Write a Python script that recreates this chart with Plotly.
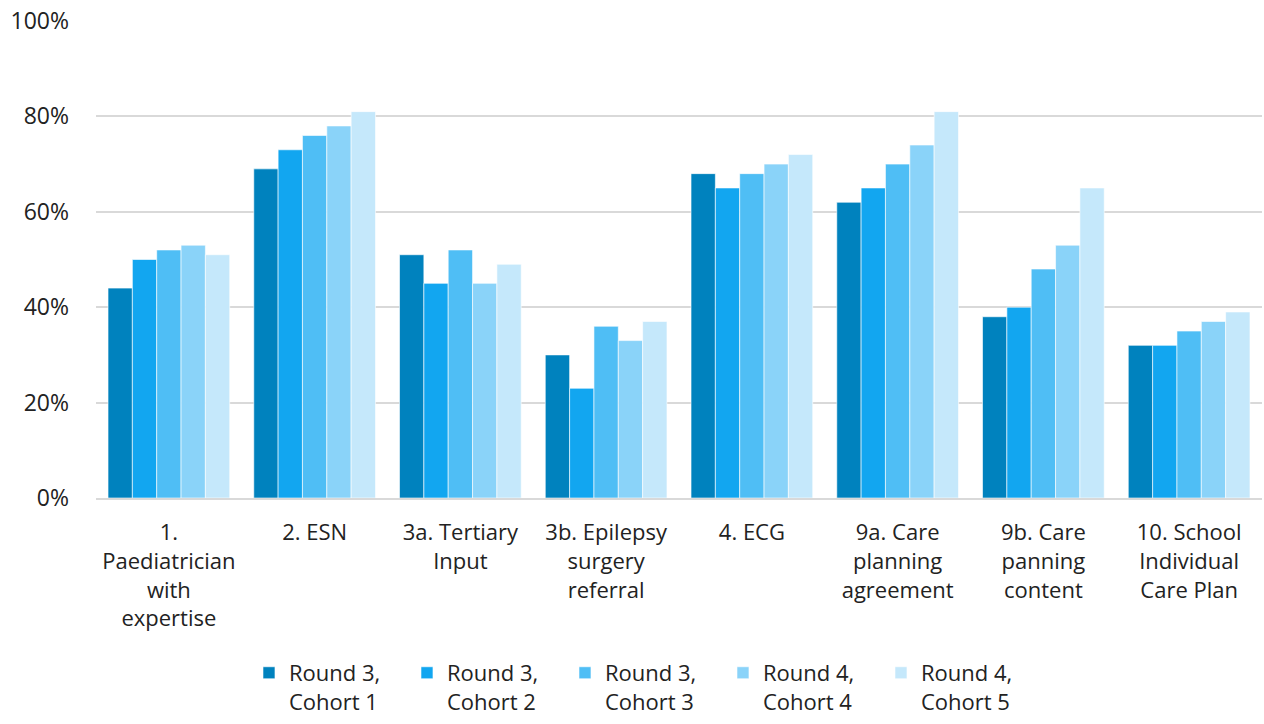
import plotly.graph_objects as go

categories = [
    "1.<br>Paediatrician<br>with<br>expertise",
    "2. ESN",
    "3a. Tertiary<br>Input",
    "3b. Epilepsy<br>surgery<br>referral",
    "4. ECG",
    "9a. Care<br>planning<br>agreement",
    "9b. Care<br>panning<br>content",
    "10. School<br>Individual<br>Care Plan",
]

series_names = [
    "Round 3,<br>Cohort 1",
    "Round 3,<br>Cohort 2",
    "Round 3,<br>Cohort 3",
    "Round 4,<br>Cohort 4",
    "Round 4,<br>Cohort 5",
]

r3_c1 = [0.44, 0.69, 0.51, 0.30, 0.68, 0.62, 0.38, 0.32]
r3_c2 = [0.50, 0.73, 0.45, 0.23, 0.65, 0.65, 0.40, 0.32]
r3_c3 = [0.52, 0.76, 0.52, 0.36, 0.68, 0.70, 0.48, 0.35]
r4_c4 = [0.53, 0.78, 0.45, 0.33, 0.70, 0.74, 0.53, 0.37]
r4_c5 = [0.51, 0.81, 0.49, 0.37, 0.72, 0.81, 0.65, 0.39]

colors = ["#0082BE", "#12A6F0", "#4FBEF5", "#8AD3F9", "#C5E8FB"]

FONT = "Open Sans"

fig = go.Figure()
for name, vals, col in zip(series_names, [r3_c1, r3_c2, r3_c3, r4_c4, r4_c5], colors):
    fig.add_trace(go.Bar(
        x=categories, y=vals, name=name,
        marker=dict(color=col, line=dict(color="rgba(255,255,255,0.6)", width=1)),
    ))

fig.update_layout(
    width=1264, height=724,
    margin=dict(l=96, r=2, t=21, b=225),
    paper_bgcolor="white", plot_bgcolor="white",
    barmode="group", bargap=0.165, bargroupgap=0,
    font=dict(family=FONT, size=22, color="#222222"),
    yaxis=dict(
        range=[0, 1], tickvals=[0, 0.2, 0.4, 0.6, 0.8, 1.0],
        tickformat=".0%", showgrid=True, gridcolor="#D9D9D9", gridwidth=2,
        zeroline=False, showline=False, ticks="", ticklabelstandoff=26,
        tickfont=dict(size=23, color="#222222"),
    ),
    xaxis=dict(
        showline=True, linecolor="#D9D9D9", linewidth=2, ticks="",
        tickfont=dict(size=22, color="#222222"), tickangle=0,
        ticklabelstandoff=14,
    ),
    legend=dict(
        orientation="h", x=0.1312, xanchor="left", y=-0.32, yanchor="top",
        font=dict(size=22, color="#222222"), valign="top",
        itemwidth=30, traceorder="normal",
        entrywidth=113, entrywidthmode="pixels",
        tracegroupgap=0,
    ),
)

fig.write_html("out.html")
